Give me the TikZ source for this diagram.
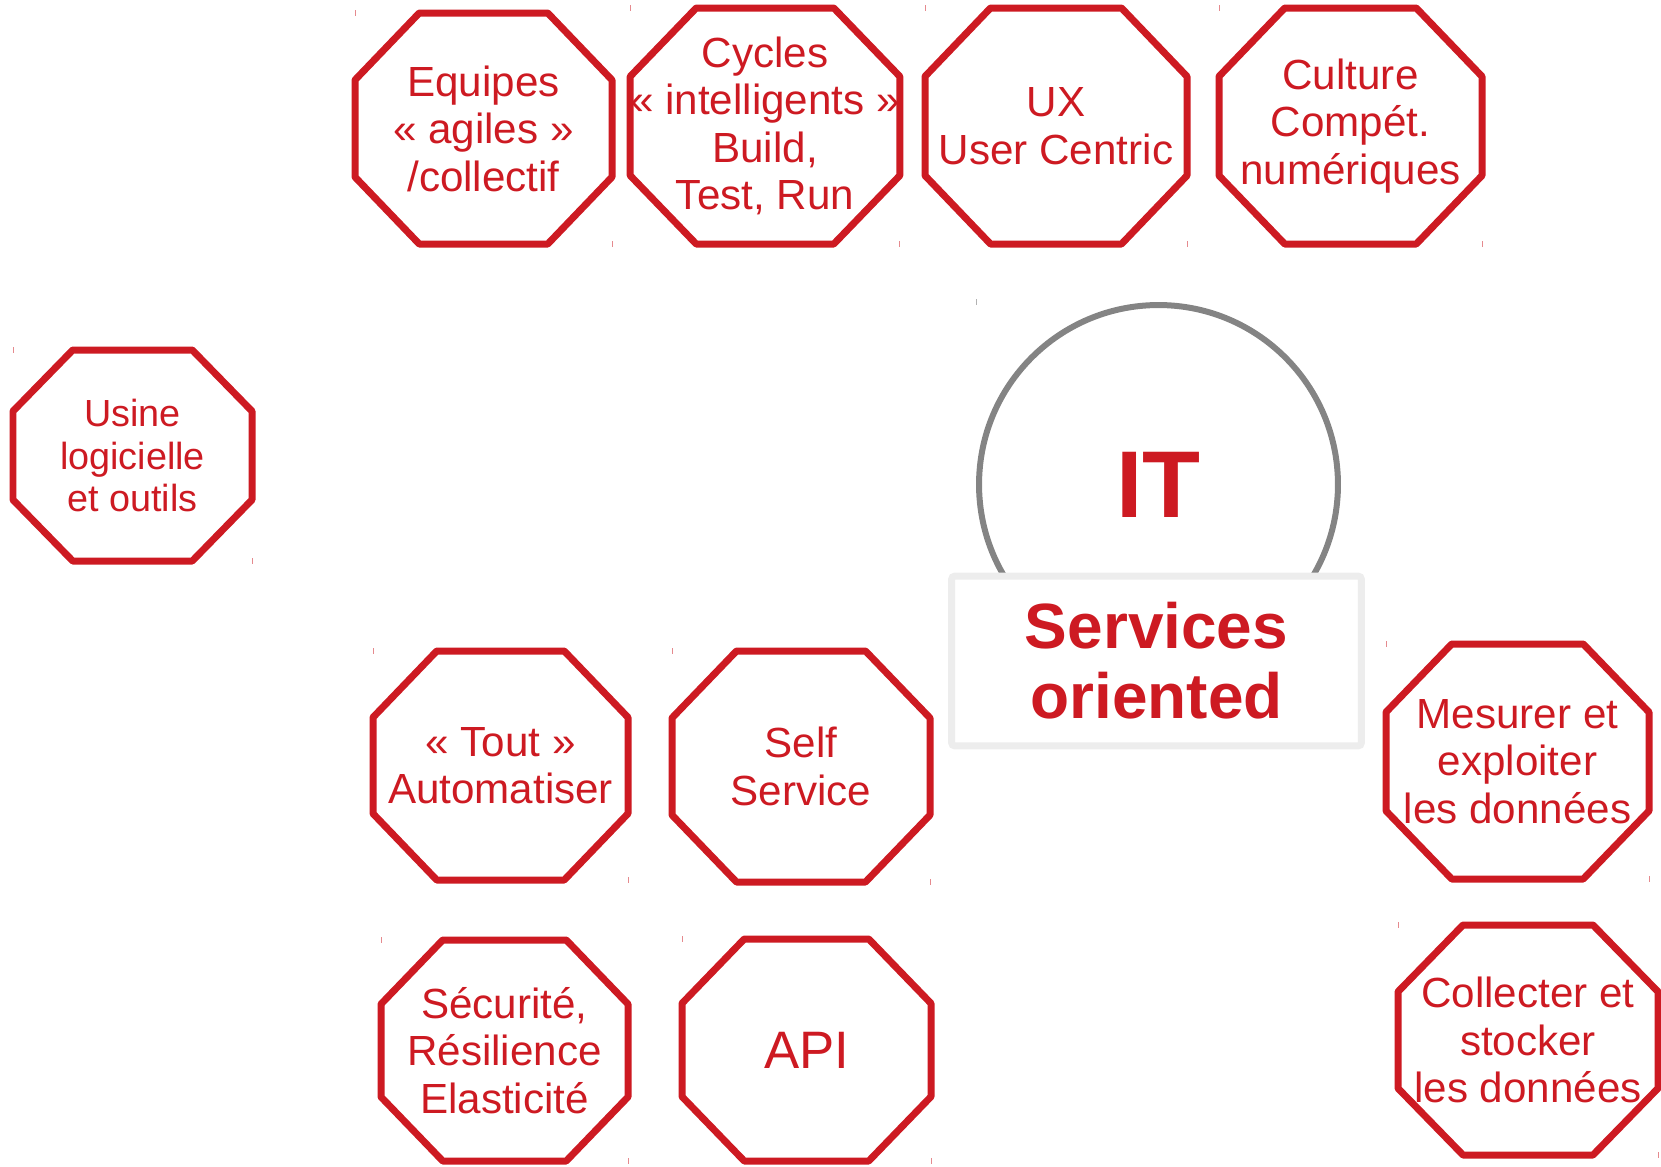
\documentclass[tikz,border=0pt]{standalone}
\usepackage{fontspec}
\setmainfont{Liberation Sans}
\definecolor{itred}{HTML}{CD1A22}
\definecolor{ringgray}{HTML}{848484}
\definecolor{framegray}{HTML}{EDEDED}
\definecolor{tickred}{HTML}{E58A8E}

\tikzset{
  octo/.style={inner sep=0pt, outer sep=0pt, align=center, text=itred},
  octline/.style={draw=itred, line width=0.14cm, line join=round},
  tickmark/.style={draw=tickred, line width=0.5pt}
}

% octagon round a named node
\newcommand\octagon[3]{%
  \draw[octline] ([xshift=#2]#1.north west) -- ([xshift=-#2]#1.north east)
    -- ([yshift=-#3]#1.north east) -- ([yshift=#3]#1.south east)
    -- ([xshift=-#2]#1.south east) -- ([xshift=#2]#1.south west)
    -- ([yshift=#3]#1.south west) -- ([yshift=-#3]#1.north west) -- cycle;
  \draw[tickmark] ([yshift=1.7pt]#1.north west) -- ([yshift=-1.7pt]#1.north west);
  \draw[tickmark] ([yshift=1.7pt]#1.south east) -- ([yshift=-1.7pt]#1.south east);
}

\begin{document}
\begin{tikzpicture}[x=0.02cm, y=-0.02cm]
  \useasboundingbox (0,0) rectangle (1661,1167);
  % IT ring
  \node[circle, draw=ringgray, line width=0.12cm, minimum size=7.18cm, inner sep=0pt,
    text=itred, font=\fontsize{54}{60}\selectfont\bfseries] (it) at (1158.5,484.5) {IT};
  \draw[draw=gray!60, line width=0.5pt] ([yshift=1.7pt]it.west |- it.north) -- ([yshift=-1.7pt]it.west |- it.north);
  % label box
  \node[draw=framegray, fill=white, line width=0.14cm, rounded corners=2pt,
    minimum width=8.2cm, minimum height=3.4cm, inner sep=0pt, align=center, text=itred,
    font=\fontsize{36.4}{39.7}\selectfont\bfseries] (services) at (1156.5,661) {Services\\oriented};
  % octagons
  \foreach \n/\x/\y/\w/\h/\fs/\bs/\txt in {
    equipes/483.5/128.5/257/231/24/27/{Equipes\\« agiles »\\/collectif},
    cycles/765/126/264/236/24/27/{Cycles\\« intelligents »\\Build,\\Test, Run},
    ux/1056/126/262/236/24/27/{UX\\User Centric},
    culture/1350.5/126/263/236/24/27/{Culture\\Compét.\\numériques},
    usine/132.5/455.5/239/211/21.5/24/{Usine\\logicielle\\et outils},
    tout/500.5/765.5/255/229/24/27/{« Tout »\\Automatiser},
    self/801/766.5/258/231/24/27/{Self\\Service},
    mesurer/1517.5/761.5/263/235/24/27/{Mesurer et\\exploiter\\les données},
    securite/504.5/1050.5/247/221/24/27/{Sécurité,\\Résilience\\Elasticité},
    api/806.5/1050/249/222/30/34/{API},
    collecter/1528/1040/260/230/24/27/{Collecter et\\stocker\\les données}} {
    \node[octo, minimum width=\w*0.02cm, minimum height=\h*0.02cm,
      font=\fontsize{\fs}{\bs}\selectfont] (\n) at (\x,\y) {\txt};
    \pgfmathsetlengthmacro\cx{0.25*\w*0.02cm}
    \pgfmathsetlengthmacro\cy{0.29*\h*0.02cm}
    \octagon{\n}{\cx}{\cy}
  }
\end{tikzpicture}
\end{document}
